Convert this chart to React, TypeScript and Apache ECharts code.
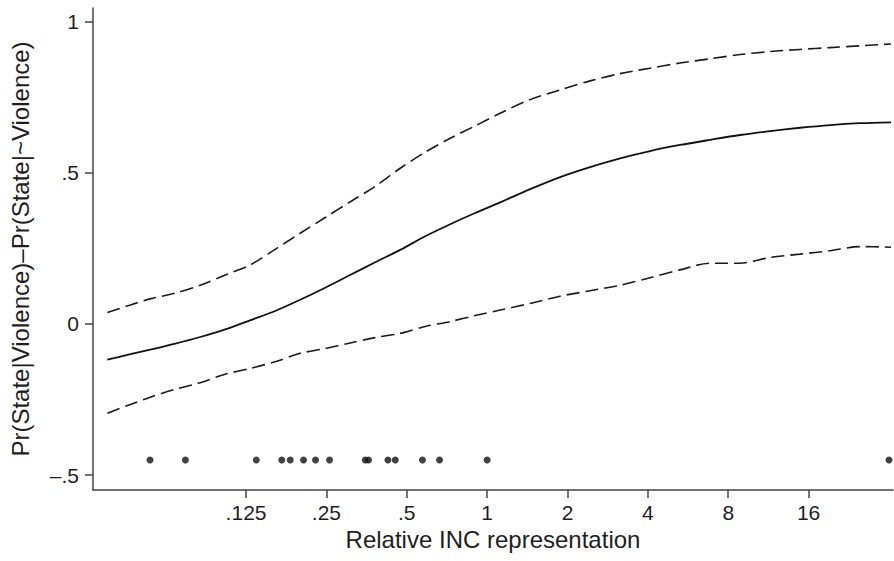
import React, { useEffect, useRef } from "react";
import * as echarts from "echarts";

// Relative INC representation (x, log2 axis)
const xGrid = [
  0.0378, 0.0461, 0.0547, 0.0679, 0.0842, 0.1044, 0.1294, 0.1607, 0.1993, 0.2474,
  0.3067, 0.3807, 0.4724, 0.586, 0.727, 0.9018, 1.119, 1.449, 1.877, 2.43,
  3.147, 4.076, 5.278, 6.84, 8.858, 11.47, 14.86, 19.24, 24.92, 32.56,
];
// Pr(State|Violence) - Pr(State|~Violence)
const estimate = [
  -0.118, -0.1, -0.085, -0.065, -0.043, -0.018, 0.012, 0.043, 0.08, 0.12,
  0.162, 0.204, 0.245, 0.29, 0.33, 0.367, 0.402, 0.446, 0.486, 0.519,
  0.548, 0.572, 0.592, 0.609, 0.625, 0.638, 0.649, 0.658, 0.664, 0.667,
];
const upper = [
  0.038, 0.063, 0.083, 0.102, 0.128, 0.162, 0.195, 0.247, 0.3, 0.352,
  0.404, 0.455, 0.515, 0.568, 0.614, 0.655, 0.697, 0.742, 0.774, 0.804,
  0.828, 0.846, 0.863, 0.877, 0.891, 0.901, 0.908, 0.914, 0.92, 0.926,
];
const lower = [
  -0.295, -0.266, -0.242, -0.216, -0.194, -0.166, -0.147, -0.125, -0.097, -0.081,
  -0.063, -0.045, -0.031, -0.008, 0.008, 0.028, 0.046, 0.068, 0.092, 0.11,
  0.128, 0.153, 0.179, 0.201, 0.201, 0.22, 0.231, 0.242, 0.256, 0.254,
];
// observed cases (rug)
const obsX = [
  0.0546, 0.0741, 0.1366, 0.1701, 0.183, 0.2052, 0.2276, 0.2569, 0.3495, 0.3595,
  0.425, 0.4527, 0.5724, 0.6631, 1.0, 32,
];
const obsY = -0.45;

const xTicks = [0.125, 0.25, 0.5, 1, 2, 4, 8, 16];
const xTickLabels = [".125", ".25", ".5", "1", "2", "4", "8", "16"];
const yTicks = [-0.5, 0, 0.5, 1];
const yTickLabels = ["–.5", "0", ".5", "1"];

const xTitle = "Relative INC representation";
const yTitle = "Pr(State|Violence)\u2013Pr(State|~Violence)";

const FONT = "'Liberation Sans', Arial, Helvetica, sans-serif";
const AXIS_COLOR = "#444";
const TEXT_COLOR = "#1e1e1e";

function nearestLabel(v: number, ticks: number[], labels: string[]) {
  let best = 0;
  for (let i = 1; i < ticks.length; i++) {
    if (Math.abs(ticks[i] - v) < Math.abs(ticks[best] - v)) best = i;
  }
  return labels[best];
}

export default function App() {
  const ref = useRef<HTMLDivElement>(null);
  useEffect(() => {
    if (!ref.current) return;
    const chart = echarts.init(ref.current, null, { renderer: "svg" });
    const pair = (ys: number[]) => xGrid.map((x, i) => [x, ys[i]]);
    chart.setOption({
      animation: false,
      backgroundColor: "#ffffff",
      grid: { left: 93, right: 1, top: 8, bottom: 71, containLabel: false },
      xAxis: {
        type: "log",
        logBase: 2,
        min: 0.03339,
        max: 33.13,
        name: xTitle,
        nameLocation: "middle",
        nameGap: 30,
        nameTextStyle: { fontFamily: FONT, fontSize: 24, color: TEXT_COLOR },
        axisLine: { show: true, onZero: false, lineStyle: { color: AXIS_COLOR, width: 1.5 } },
        axisTick: {
          show: true,
          length: 8,
          customValues: xTicks,
          lineStyle: { color: AXIS_COLOR, width: 1.5 },
        },
        axisLabel: {
          customValues: xTicks,
          margin: 12,
          fontFamily: FONT,
          fontSize: 21,
          color: TEXT_COLOR,
          formatter: (v: number) => nearestLabel(v, xTicks, xTickLabels),
        },
        splitLine: { show: false },
        minorTick: { show: false },
      },
      yAxis: {
        type: "value",
        min: -0.549,
        max: 1.045,
        name: yTitle,
        nameLocation: "middle",
        nameGap: 61,
        nameRotate: 90,
        nameTextStyle: { fontFamily: FONT, fontSize: 24, color: TEXT_COLOR },
        axisLine: { show: true, onZero: false, lineStyle: { color: AXIS_COLOR, width: 1.5 } },
        axisTick: {
          show: true,
          length: 8,
          customValues: yTicks,
          lineStyle: { color: AXIS_COLOR, width: 1.5 },
        },
        axisLabel: {
          customValues: yTicks,
          margin: 14,
          fontFamily: FONT,
          fontSize: 21,
          color: TEXT_COLOR,
          formatter: (v: number) => nearestLabel(v, yTicks, yTickLabels),
        },
        splitLine: { show: false },
      },
      series: [
        {
          type: "line",
          name: "upper",
          data: pair(upper),
          showSymbol: false,
          smooth: 0.3,
          lineStyle: { color: "#1a1a1a", width: 1.6, type: [13, 6] },
        },
        {
          type: "line",
          name: "estimate",
          data: pair(estimate),
          showSymbol: false,
          smooth: 0.3,
          lineStyle: { color: "#111", width: 1.8 },
        },
        {
          type: "line",
          name: "lower",
          data: pair(lower),
          showSymbol: false,
          smooth: 0.3,
          lineStyle: { color: "#1a1a1a", width: 1.6, type: [13, 6] },
        },
        {
          type: "scatter",
          name: "observed",
          data: obsX.map((x) => [x, obsY]),
          symbol: "circle",
          symbolSize: 7,
          itemStyle: { color: "#111" },
        },
      ],
    });
    return () => chart.dispose();
  }, []);
  return (
    <div
      ref={ref}
      style={{ position: "fixed", left: 0, top: 0, width: 894, height: 561, background: "#fff" }}
    />
  );
}
